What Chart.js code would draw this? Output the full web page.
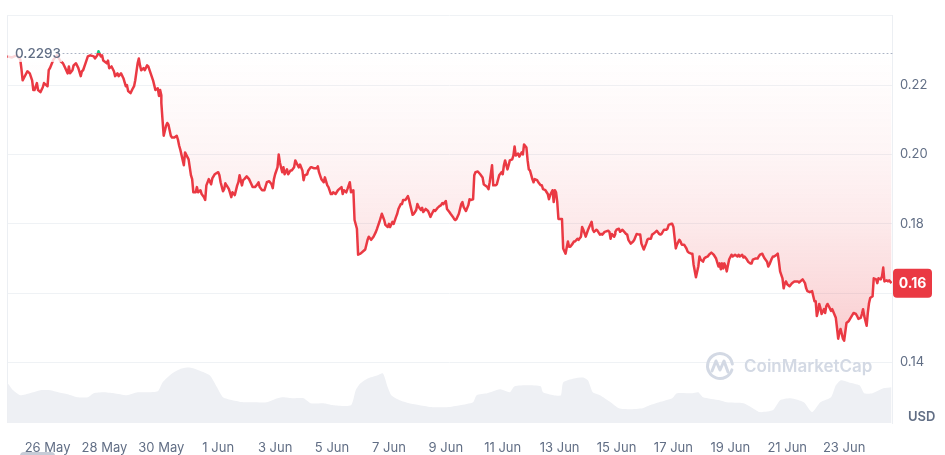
<!DOCTYPE html>
<html>
<head>
<meta charset="utf-8">
<script src="https://cdn.jsdelivr.net/npm/chart.js"></script>
<style>
  html, body { margin: 0; padding: 0; background: #fff; }
  #priceChart { display: block; }
</style>
</head>
<body>
<canvas id="priceChart" width="945" height="455"></canvas>
<script>
// x values are hours since 26 May 00:00
const tickLabels = ['26 May', '28 May', '30 May', '1 Jun', '3 Jun', '5 Jun', '7 Jun', '9 Jun',
  '11 Jun', '13 Jun', '15 Jun', '17 Jun', '19 Jun', '21 Jun', '23 Jun'];
const yTicks = [0.14, 0.16, 0.18, 0.20, 0.22, 0.24];
const baseValue = 0.2293;

const priceHours = [
  -34, -30, -26, -23, -22, -21, -17, -15, -13, -12,
  -11, -9, -8, -6, -4, -3, 0, 1, 2, 5,
  8, 11, 13, 15, 17, 18, 19, 21, 22, 24,
  26, 28, 29, 30, 32, 34, 36, 39, 40, 42,
  43, 45, 46, 47, 50, 51, 52, 54, 56, 57,
  59, 60, 62, 64, 66, 67, 68, 70, 72, 73,
  74, 76, 77, 78, 79, 81, 82, 84, 85, 87,
  89, 90, 91, 93, 94, 95, 96, 96, 97, 98,
  100, 101, 102, 104, 105, 107, 109, 110, 111, 112,
  115, 116, 119, 121, 122, 123, 125, 126, 127, 129,
  130, 132, 133, 134, 136, 138, 139, 141, 144, 145,
  146, 148, 149, 150, 152, 153, 155, 156, 158, 160,
  161, 162, 164, 165, 166, 168, 170, 172, 173, 175,
  177, 178, 179, 181, 183, 185, 187, 189, 190, 191,
  192, 194, 195, 196, 198, 199, 200, 202, 203, 205,
  206, 208, 209, 211, 212, 213, 215, 216, 217, 219,
  220, 222, 223, 225, 227, 228, 229, 231, 233, 234,
  236, 237, 239, 240, 241, 243, 245, 246, 248, 249,
  250, 252, 253, 255, 256, 258, 259, 261, 262, 264,
  267, 268, 270, 271, 273, 275, 277, 278, 280, 282,
  284, 285, 287, 288, 289, 291, 292, 294, 295, 296,
  298, 299, 300, 302, 304, 305, 306, 308, 309, 311,
  312, 313, 315, 316, 317, 319, 321, 322, 323, 325,
  326, 327, 329, 330, 332, 333, 334, 336, 337, 339,
  340, 342, 343, 344, 345, 347, 349, 350, 351, 353,
  355, 356, 357, 359, 360, 361, 363, 365, 367, 368,
  369, 371, 372, 373, 375, 376, 378, 379, 381, 383,
  384, 385, 386, 388, 389, 390, 392, 393, 394, 395,
  397, 398, 400, 401, 402, 404, 405, 406, 407, 409,
  410, 411, 413, 414, 416, 417, 418, 420, 422, 423,
  424, 426, 427, 428, 429, 430, 431, 433, 434, 435,
  437, 439, 440, 441, 443, 444, 445, 447, 448, 450,
  451, 452, 454, 456, 457, 459, 460, 461, 463, 464,
  466, 467, 468, 470, 473, 474, 475, 476, 478, 479,
  479, 480, 482, 483, 485, 488, 489, 490, 492, 494,
  495, 496, 497, 499, 500, 501, 503, 505, 506, 507,
  509, 510, 511, 513, 514, 516, 517, 518, 520, 522,
  523, 524, 526, 527, 528, 530, 531, 533, 534, 535,
  537, 539, 540, 541, 543, 544, 545, 547, 549, 550,
  551, 553, 554, 555, 557, 558, 560, 561, 562, 564,
  566, 567, 568, 569, 570, 571, 572, 573, 575, 577,
  578, 580, 582, 583, 584, 586, 587, 588, 590, 591,
  593, 594, 595, 597, 599, 600, 601, 603, 604, 605,
  607, 608, 609, 611, 612, 613, 615, 616, 617, 618,
  620, 621, 622, 623, 624, 626, 628, 630, 633, 634,
  636, 637, 639, 640, 641, 643, 645, 646, 647, 648,
  649, 650, 651, 652, 653, 655, 656, 657, 658, 659,
  661, 662, 665, 666, 667, 668, 669, 670, 671, 672,
  674, 676, 677, 680, 682, 683, 684, 686, 687, 688,
  689, 691, 692, 693, 694, 696, 697, 699, 700, 701,
  703, 704, 705, 706, 708, 709, 710, 712
];
const priceValues = [
  0.2283, 0.2280, 0.2286, 0.2274, 0.2246, 0.2214, 0.2240, 0.2234, 0.2214, 0.2186,
  0.2186, 0.2206, 0.2186, 0.2180, 0.2194, 0.2206, 0.2197, 0.2243, 0.2249, 0.2274,
  0.2286, 0.2269, 0.2263, 0.2249, 0.2234, 0.2254, 0.2234, 0.2243, 0.2257, 0.2263,
  0.2249, 0.2226, 0.2240, 0.2243, 0.2263, 0.2283, 0.2286, 0.2283, 0.2277, 0.2286,
  0.2298, 0.2283, 0.2286, 0.2271, 0.2263, 0.2271, 0.2249, 0.2254, 0.2240, 0.2226,
  0.2234, 0.2226, 0.2234, 0.2220, 0.2197, 0.2200, 0.2183, 0.2177, 0.2191, 0.2197,
  0.2214, 0.2263, 0.2277, 0.2257, 0.2243, 0.2249, 0.2243, 0.2257, 0.2254, 0.2234,
  0.2214, 0.2200, 0.2186, 0.2191, 0.2169, 0.2186, 0.2171, 0.2149, 0.2100, 0.2054,
  0.2083, 0.2091, 0.2086, 0.2054, 0.2049, 0.2049, 0.2054, 0.2043, 0.2026, 0.2014,
  0.1969, 0.2006, 0.1986, 0.1940, 0.1929, 0.1891, 0.1891, 0.1906, 0.1891, 0.1897,
  0.1886, 0.1877, 0.1869, 0.1911, 0.1929, 0.1914, 0.1931, 0.1943, 0.1949, 0.1940,
  0.1920, 0.1894, 0.1900, 0.1917, 0.1906, 0.1900, 0.1877, 0.1891, 0.1883, 0.1911,
  0.1920, 0.1940, 0.1911, 0.1926, 0.1929, 0.1937, 0.1929, 0.1914, 0.1906, 0.1906,
  0.1914, 0.1920, 0.1906, 0.1897, 0.1897, 0.1920, 0.1923, 0.1914, 0.1903, 0.1929,
  0.1943, 0.1963, 0.2000, 0.1977, 0.1949, 0.1963, 0.1943, 0.1957, 0.1943, 0.1954,
  0.1954, 0.1963, 0.1983, 0.1969, 0.1963, 0.1971, 0.1954, 0.1926, 0.1940, 0.1943,
  0.1954, 0.1963, 0.1963, 0.1960, 0.1960, 0.1966, 0.1949, 0.1929, 0.1920, 0.1934,
  0.1911, 0.1906, 0.1886, 0.1886, 0.1891, 0.1886, 0.1897, 0.1900, 0.1906, 0.1886,
  0.1897, 0.1891, 0.1900, 0.1920, 0.1891, 0.1897, 0.1811, 0.1786, 0.1711, 0.1714,
  0.1723, 0.1726, 0.1754, 0.1763, 0.1754, 0.1763, 0.1777, 0.1786, 0.1806, 0.1829,
  0.1811, 0.1797, 0.1791, 0.1800, 0.1791, 0.1806, 0.1800, 0.1820, 0.1829, 0.1843,
  0.1857, 0.1857, 0.1869, 0.1869, 0.1880, 0.1869, 0.1854, 0.1826, 0.1829, 0.1840,
  0.1857, 0.1849, 0.1840, 0.1846, 0.1834, 0.1843, 0.1837, 0.1829, 0.1820, 0.1834,
  0.1840, 0.1837, 0.1846, 0.1849, 0.1854, 0.1860, 0.1857, 0.1866, 0.1843, 0.1834,
  0.1829, 0.1820, 0.1814, 0.1811, 0.1814, 0.1829, 0.1857, 0.1863, 0.1849, 0.1837,
  0.1854, 0.1871, 0.1869, 0.1871, 0.1940, 0.1949, 0.1951, 0.1943, 0.1934, 0.1914,
  0.1911, 0.1906, 0.1900, 0.1920, 0.1969, 0.1911, 0.1911, 0.1914, 0.1940, 0.1949,
  0.1943, 0.1969, 0.1983, 0.1957, 0.1969, 0.1983, 0.1986, 0.1997, 0.2023, 0.1997,
  0.2003, 0.1994, 0.2006, 0.2000, 0.2029, 0.2020, 0.1983, 0.1957, 0.1954, 0.1929,
  0.1920, 0.1929, 0.1926, 0.1920, 0.1911, 0.1911, 0.1900, 0.1897, 0.1886, 0.1871,
  0.1883, 0.1897, 0.1863, 0.1897, 0.1891, 0.1863, 0.1814, 0.1814, 0.1814, 0.1729,
  0.1714, 0.1749, 0.1734, 0.1734, 0.1743, 0.1749, 0.1749, 0.1757, 0.1754, 0.1763,
  0.1791, 0.1783, 0.1763, 0.1783, 0.1791, 0.1806, 0.1783, 0.1777, 0.1783, 0.1780,
  0.1769, 0.1771, 0.1769, 0.1777, 0.1780, 0.1777, 0.1757, 0.1771, 0.1763, 0.1771,
  0.1777, 0.1783, 0.1786, 0.1777, 0.1783, 0.1771, 0.1769, 0.1754, 0.1743, 0.1749,
  0.1754, 0.1763, 0.1771, 0.1769, 0.1769, 0.1743, 0.1726, 0.1743, 0.1754, 0.1757,
  0.1757, 0.1769, 0.1771, 0.1777, 0.1780, 0.1771, 0.1769, 0.1771, 0.1783, 0.1783,
  0.1786, 0.1797, 0.1800, 0.1800, 0.1791, 0.1729, 0.1740, 0.1754, 0.1749, 0.1740,
  0.1740, 0.1729, 0.1720, 0.1717, 0.1714, 0.1714, 0.1683, 0.1646, 0.1677, 0.1706,
  0.1697, 0.1691, 0.1700, 0.1703, 0.1706, 0.1711, 0.1717, 0.1714, 0.1711, 0.1700,
  0.1677, 0.1686, 0.1669, 0.1686, 0.1671, 0.1686, 0.1677, 0.1663, 0.1697, 0.1711,
  0.1706, 0.1711, 0.1706, 0.1711, 0.1706, 0.1711, 0.1703, 0.1706, 0.1697, 0.1691,
  0.1686, 0.1686, 0.1697, 0.1700, 0.1700, 0.1706, 0.1711, 0.1714, 0.1706, 0.1700,
  0.1691, 0.1677, 0.1683, 0.1700, 0.1706, 0.1706, 0.1711, 0.1714, 0.1691, 0.1663,
  0.1643, 0.1614, 0.1629, 0.1634, 0.1626, 0.1620, 0.1629, 0.1634, 0.1634, 0.1631,
  0.1637, 0.1640, 0.1629, 0.1614, 0.1606, 0.1603, 0.1606, 0.1591, 0.1577, 0.1577,
  0.1534, 0.1549, 0.1569, 0.1557, 0.1540, 0.1554, 0.1543, 0.1563, 0.1569, 0.1563,
  0.1549, 0.1554, 0.1529, 0.1500, 0.1469, 0.1486, 0.1497, 0.1483, 0.1469, 0.1463,
  0.1514, 0.1520, 0.1526, 0.1543, 0.1540, 0.1534, 0.1526, 0.1529, 0.1540, 0.1554,
  0.1534, 0.1506, 0.1543, 0.1571, 0.1586, 0.1591, 0.1643, 0.1640, 0.1629, 0.1643,
  0.1640, 0.1649, 0.1674, 0.1634, 0.1637, 0.1634, 0.1637, 0.1629
];

// volume, millions
const volumeHours = [
  -34, -29, -23, -15, -6, 2, 9, 17, 25, 34,
  39, 47, 56, 67, 76, 84, 93, 97, 105, 113,
  120, 128, 137, 143, 148, 156, 165, 173, 185, 194,
  199, 207, 216, 222, 233, 241, 256, 260, 264, 270,
  278, 283, 287, 290, 297, 305, 314, 325, 337, 348,
  359, 362, 371, 376, 382, 390, 394, 405, 416, 418,
  427, 433, 435, 444, 452, 456, 460, 466, 475, 482,
  491, 502, 508, 516, 527, 531, 544, 549, 553, 567,
  573, 587, 595, 601, 612, 618, 627, 638, 645, 652,
  661, 665, 669, 676, 685, 689, 696, 705, 712
];
const volumeValues = [
  82, 66, 56, 60, 66, 66, 62, 58, 52, 52,
  60, 62, 60, 56, 62, 62, 64, 82, 100, 110,
  112, 106, 96, 72, 52, 46, 42, 42, 42, 50,
  52, 50, 50, 40, 40, 36, 36, 66, 80, 90,
  96, 100, 72, 56, 46, 40, 36, 32, 32, 36,
  42, 56, 60, 64, 68, 62, 74, 76, 74, 62,
  56, 56, 82, 90, 92, 86, 62, 56, 42, 30,
  28, 30, 36, 42, 50, 60, 60, 62, 52, 46,
  42, 40, 30, 22, 26, 46, 50, 42, 22, 42,
  52, 76, 86, 82, 76, 60, 60, 70, 72
];

const red = '#ea3943';
const green = '#16c784';
const textGray = '#616e85';
const lastPrice = priceValues[priceValues.length - 1];

Chart.defaults.font.family = 'Inter, "Noto Sans", sans-serif';
Chart.defaults.font.size = 13;
Chart.defaults.color = textGray;

const overlay = {
  id: 'overlay',
  beforeDatasetsDraw(chart) {
    const { ctx, chartArea: a, scales } = chart;
    const by = Math.round(scales.y.getPixelForValue(baseValue)) + 0.5;
    ctx.save();
    // left border of the plot
    ctx.strokeStyle = '#eceff3';
    ctx.lineWidth = 1;
    ctx.beginPath();
    ctx.moveTo(a.left + 0.5, a.top);
    ctx.lineTo(a.left + 0.5, a.bottom);
    ctx.stroke();

    // watermark
    const wx = a.right - 172, wy = 366;
    ctx.strokeStyle = '#d3d9e4';
    ctx.lineWidth = 3;
    ctx.lineCap = 'round';
    ctx.lineJoin = 'round';
    ctx.beginPath();
    ctx.arc(wx, wy, 12.5, 0.1 * Math.PI, 1.95 * Math.PI);
    ctx.stroke();
    ctx.beginPath();
    ctx.moveTo(wx - 8, wy + 5);
    ctx.lineTo(wx - 4, wy - 5);
    ctx.lineTo(wx, wy + 4);
    ctx.lineTo(wx + 4, wy - 5);
    ctx.lineTo(wx + 8, wy + 6);
    ctx.stroke();
    ctx.fillStyle = '#d3d9e4';
    ctx.font = '600 17px Inter, "Noto Sans", sans-serif';
    ctx.textBaseline = 'middle';
    ctx.fillText('CoinMarketCap', wx + 24, wy + 1);

    // dotted baseline
    ctx.setLineDash([1, 3]);
    ctx.lineWidth = 1;
    ctx.strokeStyle = '#aab3c4';
    ctx.beginPath();
    ctx.moveTo(a.left + 56, by);
    ctx.lineTo(a.right, by);
    ctx.stroke();
    ctx.restore();
  },
  afterDatasetsDraw(chart) {
    const { ctx, chartArea: a, scales } = chart;
    const by = scales.y.getPixelForValue(baseValue);
    ctx.save();
    ctx.fillStyle = 'rgba(255,255,255,0.8)';
    ctx.fillRect(a.left + 1, by - 9, 54, 18);
    ctx.fillStyle = textGray;
    ctx.font = '500 13.5px Inter, "Noto Sans", sans-serif';
    ctx.textBaseline = 'middle';
    ctx.fillText(baseValue.toFixed(4), a.left + 8, by + 1);
    ctx.restore();
  },
  afterDraw(chart) {
    const { ctx, chartArea: a, scales } = chart;
    const py = scales.y.getPixelForValue(lastPrice);
    ctx.save();
    // current price badge
    ctx.fillStyle = red;
    ctx.beginPath();
    ctx.roundRect(a.right + 1, py - 14.5, 39, 29, 4);
    ctx.fill();
    ctx.fillStyle = '#fff';
    ctx.font = 'bold 14px Inter, "Noto Sans", sans-serif';
    ctx.textAlign = 'center';
    ctx.textBaseline = 'middle';
    ctx.fillText(lastPrice.toFixed(2), a.right + 20.5, py + 1);
    // currency
    ctx.fillStyle = textGray;
    ctx.font = '600 13px Inter, "Noto Sans", sans-serif';
    ctx.textAlign = 'left';
    ctx.fillText('USD', a.right + 16, a.bottom - 6);
    // range slider handle
    ctx.fillStyle = '#c6ccd7';
    ctx.beginPath();
    ctx.roundRect(a.left + 13, chart.height - 3, 35, 8, 4);
    ctx.fill();
    ctx.restore();
  }
};

function lineStroke(context) {
  const { chart } = context;
  const a = chart.chartArea;
  if (!a) return red;
  const by = chart.scales.y.getPixelForValue(baseValue);
  const f = Math.min(1, Math.max(0, (by - a.top) / (a.bottom - a.top)));
  const g = chart.ctx.createLinearGradient(0, a.top, 0, a.bottom);
  g.addColorStop(0, green);
  g.addColorStop(f, green);
  g.addColorStop(f, red);
  g.addColorStop(1, red);
  return g;
}

function areaFill(context) {
  const { chart } = context;
  const a = chart.chartArea;
  if (!a) return 'rgba(234,57,67,0.05)';
  const y = chart.scales.y;
  const y0 = y.getPixelForValue(baseValue);
  const y1 = y.getPixelForValue(0.145);
  const stop = v => (y.getPixelForValue(v) - y0) / (y1 - y0);
  const g = chart.ctx.createLinearGradient(0, y0, 0, y1);
  g.addColorStop(0, 'rgba(234,57,67,0.0)');
  g.addColorStop(stop(0.20), 'rgba(234,57,67,0.05)');
  g.addColorStop(stop(0.18), 'rgba(234,57,67,0.11)');
  g.addColorStop(stop(0.16), 'rgba(234,57,67,0.19)');
  g.addColorStop(1, 'rgba(234,57,67,0.26)');
  return g;
}

new Chart(document.getElementById('priceChart'), {
  type: 'line',
  data: {
    datasets: [{
      label: 'Price',
      data: priceHours.map((h, i) => ({ x: h, y: priceValues[i] })),
      yAxisID: 'y',
      borderColor: lineStroke,
      borderWidth: 2.5,
      borderJoinStyle: 'round',
      backgroundColor: areaFill,
      fill: { value: baseValue },
      pointRadius: 0,
      tension: 0,
      order: 0
    }, {
      label: 'Volume',
      data: volumeHours.map((h, i) => ({ x: h, y: volumeValues[i] })),
      yAxisID: 'yv',
      borderWidth: 0,
      backgroundColor: '#eef0f4',
      fill: 'origin',
      pointRadius: 0,
      tension: 0.2,
      order: 1
    }]
  },
  options: {
    responsive: false,
    animation: false,
    layout: { padding: { left: 7, top: 12, right: 0, bottom: 0 } },
    plugins: {
      legend: { display: false },
      tooltip: { enabled: false }
    },
    scales: {
      x: {
        type: 'linear',
        min: -34.2,
        max: 712.4,
        grid: { display: false },
        border: { display: false },
        afterBuildTicks: scale => {
          scale.ticks = tickLabels.map((_, i) => ({ value: i * 48 }));
        },
        afterFit: scale => { scale.height = 32; },
        ticks: {
          autoSkip: false,
          maxRotation: 0,
          padding: 9,
          callback: (v, i) => tickLabels[i]
        }
      },
      y: {
        position: 'right',
        min: 0.12257,
        max: 0.24,
        grid: { color: '#eff2f5', drawTicks: false },
        border: { display: true, color: '#eceff3' },
        afterBuildTicks: scale => {
          scale.ticks = yTicks.map(v => ({ value: v }));
        },
        afterFit: scale => { scale.width = 53; },
        ticks: {
          padding: 8,
          callback: v => (v > 0.235 || Math.abs(v - lastPrice) < 0.006) ? '' : v.toFixed(2)
        }
      },
      yv: {
        display: false,
        min: 0,
        max: 822
      }
    }
  },
  plugins: [overlay]
});
</script>
</body>
</html>
